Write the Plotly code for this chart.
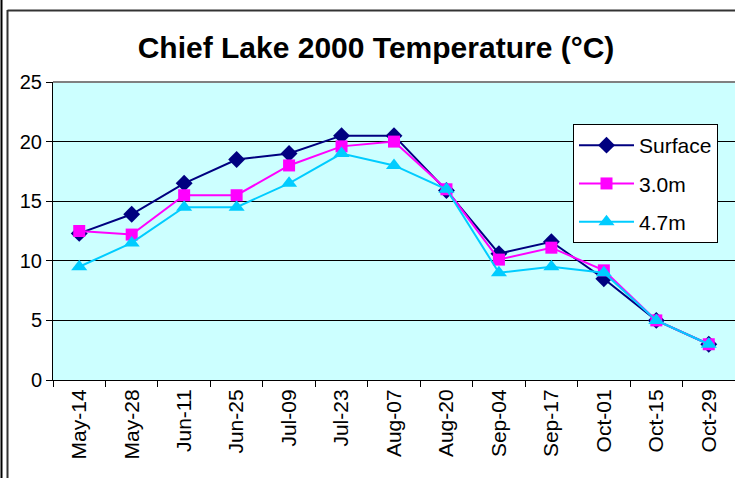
import plotly.graph_objects as go

dates = ["May-14", "May-28", "Jun-11", "Jun-25", "Jul-09", "Jul-23", "Aug-07",
         "Aug-20", "Sep-04", "Sep-17", "Oct-01", "Oct-15", "Oct-29"]
surface = [12.3, 13.9, 16.5, 18.5, 19.0, 20.5, 20.5, 15.9, 10.6, 11.6, 8.5, 5.0, 3.0]
m30 = [12.5, 12.2, 15.5, 15.5, 18.0, 19.6, 20.0, 16.0, 10.1, 11.1, 9.2, 5.0, 3.0]
m47 = [9.5, 11.5, 14.5, 14.5, 16.5, 19.0, 18.0, 16.0, 9.0, 9.5, 9.0, 5.0, 3.0]
yticks = [0, 5, 10, 15, 20, 25]

W, H = 735, 478
L, R, T, B = 53, 0, 82, 98
pw, ph = W - L - R, H - T - B

def px(x):
    return (x - L) / pw

def py(y):
    return (H - B - y) / ph

fig = go.Figure()
series = [
    ("Surface", surface, "#000080", "diamond", 13),
    ("3.0m", m30, "#FF00FF", "square", 12),
    ("4.7m", m47, "#00CCFF", "triangle-up", 14),
]
for name, vals, col, sym, sz in series:
    fig.add_trace(go.Scatter(
        x=dates, y=vals, name=name, mode="lines+markers", legendgroup=name,
        line=dict(color=col, width=2),
        marker=dict(symbol=sym, size=sz, color=col),
    ))

fig.update_layout(
    width=W, height=H,
    margin=dict(l=L, r=R, t=T, b=B, autoexpand=False),
    paper_bgcolor="white",
    plot_bgcolor="#CCFFFF",
    font=dict(family="Arial, Liberation Sans, sans-serif", size=20, color="black"),
    title=dict(text="<b>Chief Lake 2000 Temperature (°C)</b>",
               x=376 / W, xanchor="center", xref="container",
               y=1 - 47 / H, yanchor="middle", yref="container",
               font=dict(size=30, family="Arial, Liberation Sans, sans-serif")),
    legend=dict(x=px(573), y=py(124), xanchor="left", yanchor="top",
                bgcolor="white", bordercolor="black", borderwidth=1,
                font=dict(size=21), itemwidth=55, tracegroupgap=8),
    xaxis=dict(type="category", tickangle=-90, range=[-0.5, 12.5],
               showline=True, linecolor="black", linewidth=1,
               ticks="outside", ticklen=6, tickcolor="black", tickson="boundaries",
               showgrid=False, zeroline=False, tickfont=dict(size=21)),
    yaxis=dict(range=[0, 25], tickvals=yticks, showline=True, linecolor="black",
               linewidth=1, ticks="outside", ticklen=6, tickcolor="black",
               showgrid=True, gridcolor="black", gridwidth=1, zeroline=False,
               tickfont=dict(size=20)),
    showlegend=True,
)

# chart frame lines and plot-area top border
fig.add_shape(type="line", xref="paper", yref="paper",
              x0=px(1.5), x1=px(1.5), y0=py(0), y1=py(H), line=dict(color="black", width=2))
fig.add_shape(type="line", xref="paper", yref="paper",
              x0=px(7.5), x1=px(7.5), y0=py(10), y1=py(H), line=dict(color="#333333", width=2))
fig.add_shape(type="line", xref="paper", yref="paper",
              x0=px(7.5), x1=px(W), y0=py(10.5), y1=py(10.5), line=dict(color="#333333", width=2))
fig.add_shape(type="line", xref="paper", yref="paper",
              x0=0, x1=1, y0=1, y1=1, line=dict(color="#808080", width=2))

fig.write_html("out.html", config={"displayModeBar": False},
               post_script="document.body.style.margin='0px';")
